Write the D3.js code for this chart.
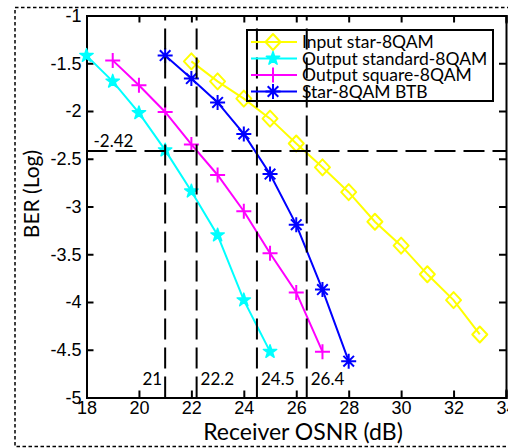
<!DOCTYPE html>
<html>
<head>
    <meta charset="utf-8">
    <title>BER vs OSNR</title>
    <script src="https://cdnjs.cloudflare.com/ajax/libs/d3/7.8.5/d3.min.js"></script>
</head>
<style media="screen">
    body { margin: 0; background: #fff; }
    svg { font-family: Lato, "Open Sans", sans-serif; }
    .axis path, .axis line {
        fill: none;
        stroke: #000;
        stroke-width: 2;
    }
    .axis text { font-size: 18px; fill: #000; }
    .guide {
        stroke: #000;
        stroke-width: 2;
        stroke-dasharray: 21, 8;
        fill: none;
    }
    .series { fill: none; stroke-width: 2; }
</style>
<body>
    <script>
        var w = 508, h = 448;

        // input star-8QAM
        var inputX = [22, 23, 24, 25, 26, 27, 28, 29, 30, 31, 32, 33];
        var inputY = [-1.48, -1.69, -1.87, -2.08, -2.34, -2.59, -2.85, -3.16, -3.41, -3.71, -3.98, -4.34];
        // output standard-8QAM
        var standardX = [18, 19, 20, 21, 22, 23, 24, 25];
        var standardY = [-1.42, -1.69, -2.02, -2.41, -2.84, -3.30, -3.98, -4.52];
        // output square-8QAM
        var squareX = [19, 20, 21, 22, 23, 24, 25, 26, 27];
        var squareY = [-1.47, -1.73, -2.01, -2.35, -2.67, -3.05, -3.49, -3.90, -4.52];
        // star-8QAM back to back
        var btbX = [21, 22, 23, 24, 25, 26, 27, 28];
        var btbY = [-1.42, -1.66, -1.91, -2.24, -2.66, -3.19, -3.87, -4.62];

        var names = ["Input star-8QAM", "Output standard-8QAM", "Output square-8QAM", "Star-8QAM BTB"];
        var colors = ["#ffff00", "#00ffff", "#ff00ff", "#0000ff"];

        var thresholdY = -2.42;
        var thresholdLabel = "-2.42";
        var crossX = [21, 22.2, 24.5, 26.4];
        var crossLabels = ["21", "22.2", "24.5", "26.4"];

        var xTicks = [18, 20, 22, 24, 26, 28, 30, 32, 34];
        var yTicks = [-1, -1.5, -2, -2.5, -3, -3.5, -4, -4.5, -5];

        var series = [
            { xs: inputX, ys: inputY, marker: "diamond" },
            { xs: standardX, ys: standardY, marker: "star" },
            { xs: squareX, ys: squareY, marker: "plus" },
            { xs: btbX, ys: btbY, marker: "asterisk" }
        ];

        var svg = d3.select("body").append("svg")
            .attr("width", w)
            .attr("height", h);

        // dotted figure border
        svg.append("rect")
            .attr("x", 15).attr("y", 7.5)
            .attr("width", 500).attr("height", 439)
            .attr("fill", "none")
            .attr("stroke", "#000")
            .attr("stroke-width", 1.5)
            .attr("stroke-dasharray", "3.5,2.5");

        var x = d3.scaleLinear().domain([18, 34]).range([86.5, 506]);
        var y = d3.scaleLinear().domain([-5, -1]).range([397.5, 15.5]);

        svg.append("g").attr("class", "axis")
            .attr("transform", "translate(0," + y(-5) + ")")
            .call(d3.axisBottom(x).tickValues(xTicks).tickSize(-7).tickPadding(4).tickFormat(d3.format("d")));
        svg.append("g").attr("class", "axis")
            .attr("transform", "translate(0," + y(-1) + ")")
            .call(d3.axisTop(x).tickValues(xTicks).tickSize(-7).tickFormat(""));
        svg.append("g").attr("class", "axis")
            .attr("transform", "translate(" + x(18) + ",0)")
            .call(d3.axisLeft(y).tickValues(yTicks).tickSize(-7).tickPadding(5).tickFormat(function(d) { return String(d); }));
        svg.append("g").attr("class", "axis")
            .attr("transform", "translate(" + x(34) + ",0)")
            .call(d3.axisRight(y).tickValues(yTicks).tickSize(-7).tickFormat(""));

        svg.selectAll(".axis .domain").attr("stroke-linecap", "square");

        // axis titles
        svg.append("text")
            .attr("x", 303).attr("y", 440)
            .attr("text-anchor", "middle")
            .attr("font-size", 23)
            .text("Receiver OSNR (dB)");
        svg.append("text")
            .attr("transform", "translate(39,194) rotate(-90)")
            .attr("text-anchor", "middle")
            .attr("font-size", 21)
            .text("BER (Log)");

        // markers
        function markerPath(type) {
            var p = d3.path();
            if (type === "diamond") {
                p.moveTo(0, -8); p.lineTo(7.5, 0); p.lineTo(0, 8); p.lineTo(-7.5, 0); p.closePath();
                return p.toString();
            }
            if (type === "plus") {
                p.moveTo(-7.5, 0); p.lineTo(7.5, 0); p.moveTo(0, -7.5); p.lineTo(0, 7.5);
                return p.toString();
            }
            if (type === "asterisk") {
                var r = 7.5, q = r * Math.SQRT1_2;
                p.moveTo(-r, 0); p.lineTo(r, 0); p.moveTo(0, -r); p.lineTo(0, r);
                p.moveTo(-q, -q); p.lineTo(q, q); p.moveTo(-q, q); p.lineTo(q, -q);
                return p.toString();
            }
            return d3.symbol(d3.symbolStar, 55)();
        }

        var line = d3.line()
            .x(function(d) { return x(d[0]); })
            .y(function(d) { return y(d[1]); });

        series.forEach(function(s, i) {
            var pts = s.xs.map(function(v, k) { return [v, s.ys[k]]; });
            var g = svg.append("g");
            g.append("path")
                .attr("class", "series")
                .attr("stroke", colors[i])
                .attr("d", line(pts));
            g.selectAll("path.mk").data(pts).enter().append("path")
                .attr("class", "mk")
                .attr("transform", function(d) { return "translate(" + x(d[0]) + "," + y(d[1]) + ")"; })
                .attr("d", markerPath(s.marker))
                .attr("fill", s.marker === "star" ? colors[i] : "none")
                .attr("stroke", colors[i])
                .attr("stroke-linejoin", "round")
                .attr("stroke-width", s.marker === "star" ? 1.5 : 2);
        });

        // guide lines
        svg.append("line").attr("class", "guide")
            .attr("x1", x(18)).attr("x2", x(34))
            .attr("y1", y(thresholdY)).attr("y2", y(thresholdY));
        svg.append("text")
            .attr("x", x(18) + 7).attr("y", y(thresholdY) - 4)
            .attr("font-size", 17)
            .text(thresholdLabel);

        crossX.forEach(function(v, i) {
            svg.append("line").attr("class", "guide")
                .attr("x1", x(v)).attr("x2", x(v))
                .attr("y1", y(-5)).attr("y2", y(-1));
            svg.append("text")
                .attr("x", i === 0 ? x(v) - 3 : x(v) + 4)
                .attr("y", y(-4.87))
                .attr("text-anchor", i === 0 ? "end" : "start")
                .attr("font-size", 17)
                .text(crossLabels[i]);
        });

        // legend
        var legend = svg.append("g").attr("transform", "translate(247,30)");
        legend.append("rect")
            .attr("width", 246).attr("height", 71)
            .attr("fill", "none")
            .attr("stroke", "#000")
            .attr("stroke-width", 2);
        names.forEach(function(n, i) {
            var ly = 12 + i * 16.5;
            var row = legend.append("g").attr("transform", "translate(0," + ly + ")");
            row.append("line")
                .attr("x1", 4).attr("x2", 50)
                .attr("stroke", colors[i]).attr("stroke-width", 2);
            row.append("path")
                .attr("transform", "translate(26,0)")
                .attr("d", markerPath(series[i].marker))
                .attr("fill", series[i].marker === "star" ? colors[i] : "none")
                .attr("stroke", colors[i])
                .attr("stroke-linejoin", "round")
                .attr("stroke-width", series[i].marker === "star" ? 1.5 : 2);
            row.append("text")
                .attr("x", 55).attr("y", 6)
                .attr("font-size", 17.5)
                .text(n);
        });
    </script>
</body>
</html>
